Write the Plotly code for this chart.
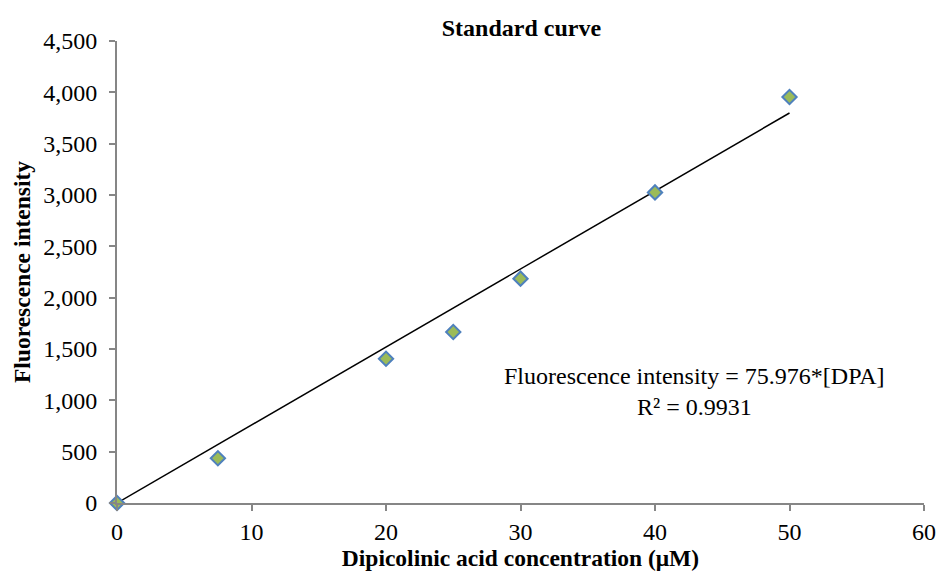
import plotly.graph_objects as go

conc = [0, 7.5, 20, 25, 30, 40, 50]
intensity = [0, 436, 1405, 1665, 2185, 3025, 3955]
slope = 75.976
fit_x = [0, 50]
fit_y = [slope * v for v in fit_x]

FONT = "Liberation Serif, Times New Roman, serif"

fig = go.Figure()
fig.add_trace(go.Scatter(x=fit_x, y=fit_y, mode="lines",
                         line=dict(color="black", width=1.5), showlegend=False))
fig.add_trace(go.Scatter(x=conc, y=intensity, mode="markers",
                         marker=dict(symbol="diamond", size=11, color="#9BBB59",
                                     line=dict(color="#4F81BD", width=2)),
                         showlegend=False, cliponaxis=False))

fig.add_annotation(x=42.9, y=1088, xref="x", yref="y",
                   text="Fluorescence intensity = 75.976*[DPA]<br>R² = 0.9931",
                   showarrow=False, align="center",
                   font=dict(family=FONT, size=24, color="black"))

fig.update_layout(
    width=948, height=579,
    margin=dict(l=117, r=16, t=41, b=75),
    paper_bgcolor="white", plot_bgcolor="white",
    font=dict(family=FONT, size=24, color="black"),
    title=dict(text="<b>Standard curve</b>", x=0.55, xanchor="center",
               y=0.952, yanchor="middle", font=dict(family=FONT, size=24)),
)
fig.update_xaxes(range=[0, 60], dtick=10, showgrid=False, zeroline=False,
                 showline=True, linecolor="#868686", linewidth=2,
                 ticks="outside", ticklen=6, tickcolor="#868686", tickwidth=2,
                 tickfont=dict(family=FONT, size=24),
                 title=dict(text="<b>Dipicolinic acid concentration (μM)</b>",
                            font=dict(family=FONT, size=23.5), standoff=6))
fig.update_yaxes(range=[0, 4500], dtick=500, tickformat=",", showgrid=False,
                 zeroline=False, showline=True, linecolor="#868686", linewidth=2,
                 ticks="outside", ticklen=6, tickcolor="#868686", tickwidth=2,
                 tickfont=dict(family=FONT, size=24), ticklabelstandoff=7,
                 title=dict(text="<b>Fluorescence intensity</b>",
                            font=dict(family=FONT, size=23.5), standoff=6))

fig.write_html("out.html")
